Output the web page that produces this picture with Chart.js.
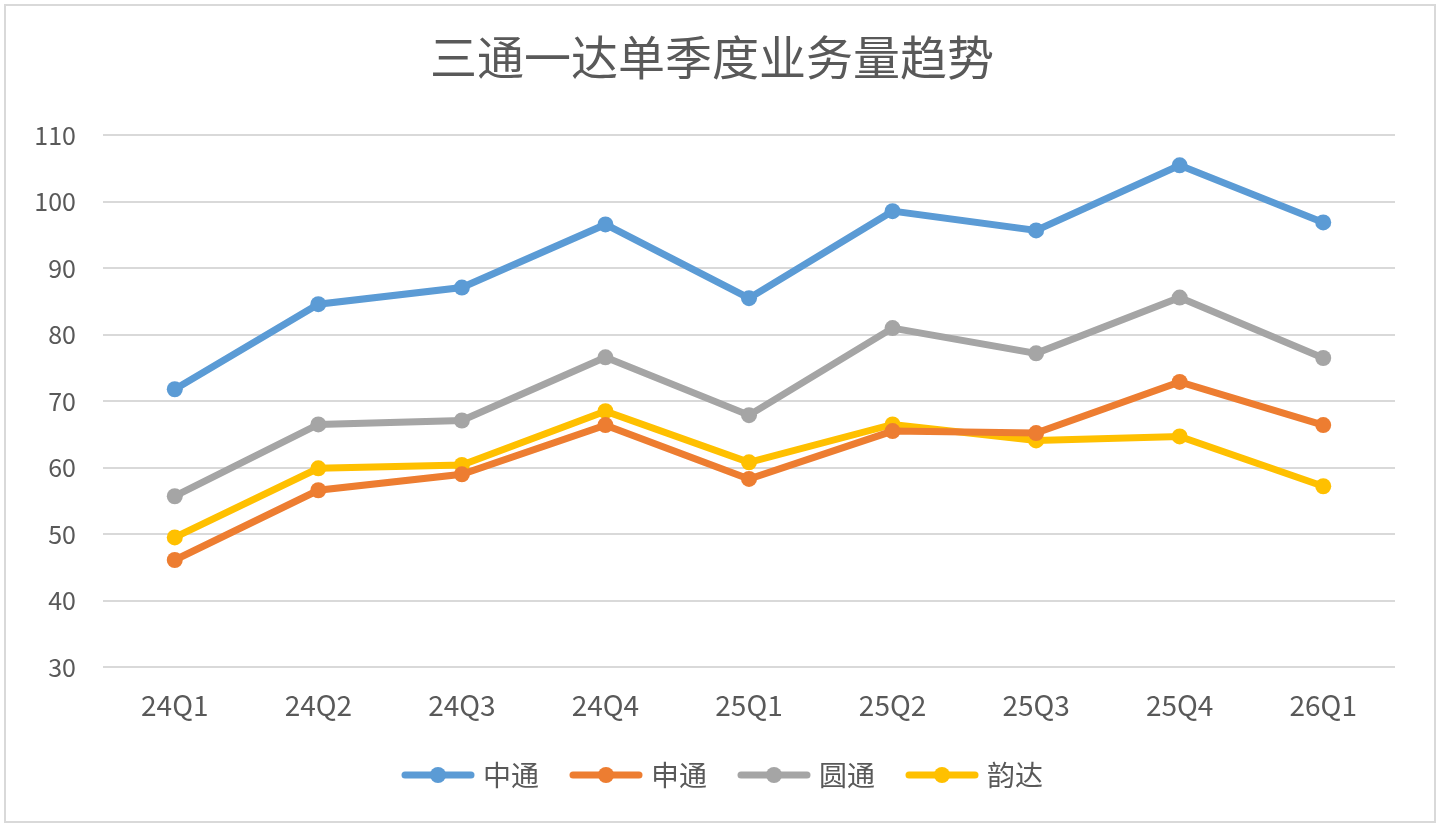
<!DOCTYPE html>
<html>
<head>
<meta charset="utf-8">
<script src="https://cdn.jsdelivr.net/npm/chart.js@4"></script>
<style>
    body { margin: 0; background: #ffffff; }
    #frame { position: absolute; left: 4px; top: 4px; width: 1428px; height: 815px; border: 2px solid #d9d9d9; }
    #wrap { position: absolute; left: 0; top: 0; width: 1440px; height: 832px; }
</style>
</head>
<body>
<div id="frame"></div>
<div id="wrap"><canvas id="volumeChart"></canvas></div>
<script>
const quarters = ['24Q1', '24Q2', '24Q3', '24Q4', '25Q1', '25Q2', '25Q3', '25Q4', '26Q1'];
const zto = [71.8, 84.6, 87.1, 96.6, 85.5, 98.6, 95.7, 105.5, 96.9];
const sto = [46.1, 56.6, 59.0, 66.4, 58.3, 65.5, 65.2, 72.9, 66.4];
const yto = [55.7, 66.5, 67.1, 76.6, 67.9, 81.0, 77.2, 85.6, 76.5];
const yunda = [49.5, 59.9, 60.4, 68.5, 60.8, 66.5, 64.1, 64.7, 57.2];
const yTicks = [30, 40, 50, 60, 70, 80, 90, 100, 110];

const font = '"Noto Sans CJK SC", "Open Sans", sans-serif';
const textColor = '#595959';

// legend marker: short thick line with a dot, pushed to the right side
// of the image so it sits close to its label
function legendMarker(color) {
    const c = document.createElement('canvas');
    c.width = 100; c.height = 20;
    const g = c.getContext('2d');
    g.strokeStyle = color;
    g.lineWidth = 7;
    g.lineCap = 'round';
    g.beginPath();
    g.moveTo(30, 10); g.lineTo(96, 10);
    g.stroke();
    g.fillStyle = color;
    g.beginPath();
    g.arc(63, 10, 8, 0, Math.PI * 2);
    g.fill();
    return c;
}

function series(label, data, color) {
    return {
        label: label,
        data: data,
        borderColor: color,
        backgroundColor: color,
        borderWidth: 7,
        pointRadius: 8,
        pointHoverRadius: 8,
        pointBorderWidth: 0,
        tension: 0,
        pointStyle: 'circle',
        marker: legendMarker(color)
    };
}

document.addEventListener("DOMContentLoaded", function() {
    const ctx = document.getElementById('volumeChart').getContext('2d');

    new Chart(ctx, {
        type: 'line',
        data: {
            labels: quarters,
            datasets: [
                series('中通', zto, '#5b9bd5'),
                series('申通', sto, '#ed7d31'),
                series('圆通', yto, '#a5a5a5'),
                series('韵达', yunda, '#ffc000')
            ]
        },
        options: {
            responsive: true,
            maintainAspectRatio: false,
            animation: false,
            layout: { padding: { left: 29, right: 45, top: 0, bottom: 33 } },
            plugins: {
                title: {
                    display: true,
                    text: '三通一达单季度业务量趋势',
                    color: textColor,
                    font: { family: font, size: 47, weight: 'normal' },
                    padding: { top: 29, bottom: 50 }
                },
                legend: {
                    position: 'bottom',
                    labels: {
                        color: textColor,
                        font: { family: font, size: 28 },
                        usePointStyle: true,
                        pointStyleWidth: 88,
                        boxHeight: 20,
                        padding: 10,
                        generateLabels: function(chart) {
                            return chart.data.datasets.map((ds, i) => ({
                                text: ds.label,
                                fontColor: textColor,
                                pointStyle: ds.marker,
                                datasetIndex: i,
                                hidden: false,
                                lineWidth: 0
                            }));
                        }
                    }
                },
                tooltip: { enabled: false }
            },
            scales: {
                x: {
                    offset: true,
                    afterFit: function(axis) { axis.height = 84; },
                    grid: { display: false, drawTicks: false },
                    border: { display: false },
                    ticks: { color: textColor, font: { family: font, size: 28 }, padding: 22 }
                },
                y: {
                    min: 30,
                    max: 110,
                    afterBuildTicks: function(axis) {
                        axis.ticks = yTicks.map(v => ({ value: v }));
                    },
                    afterFit: function(axis) { axis.width = 74; },
                    grid: { color: '#d9d9d9', lineWidth: 2, drawTicks: false },
                    border: { display: false },
                    ticks: { color: textColor, font: { family: font, size: 25 }, padding: 27 }
                }
            }
        }
    });
});
</script>
</body>
</html>
